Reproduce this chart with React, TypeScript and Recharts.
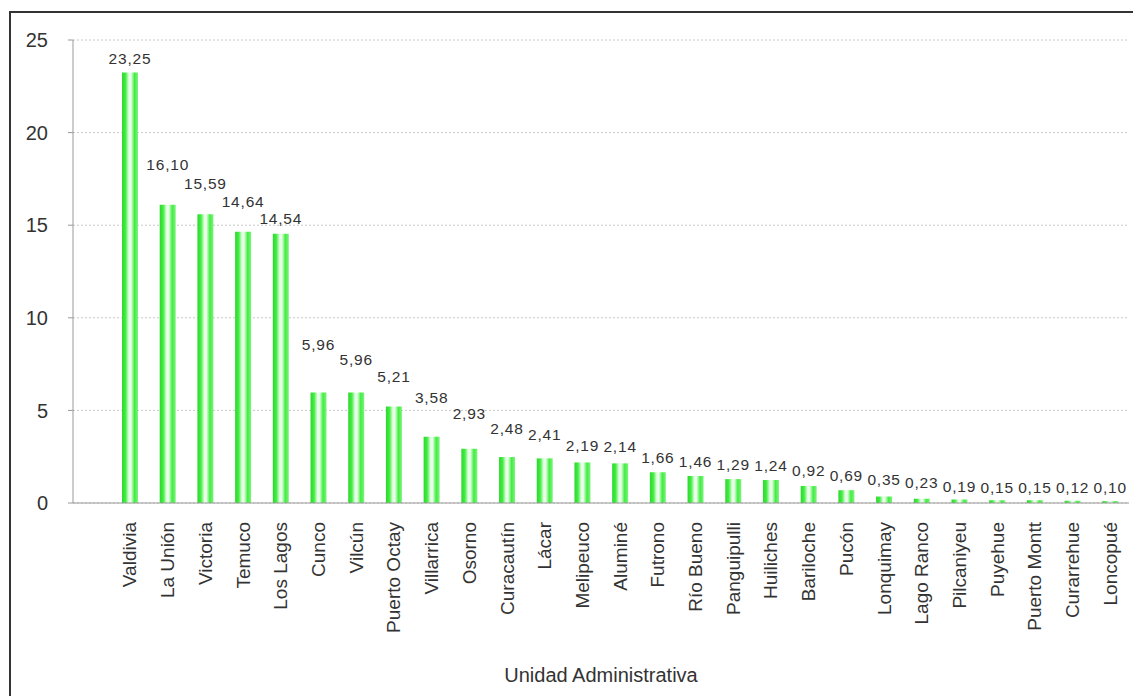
import { BarChart, Bar, XAxis, YAxis, CartesianGrid, LabelList } from "recharts"

// Unidades administrativas y valores
const units = [
  "Valdivia", "La Unión", "Victoria", "Temuco", "Los Lagos", "Cunco", "Vilcún",
  "Puerto Octay", "Villarrica", "Osorno", "Curacautín", "Lácar", "Melipeuco",
  "Aluminé", "Futrono", "Río Bueno", "Panguipulli", "Huiliches", "Bariloche",
  "Pucón", "Lonquimay", "Lago Ranco", "Pilcaniyeu", "Puyehue", "Puerto Montt",
  "Curarrehue", "Loncopué",
]
const values = [
  23.25, 16.1, 15.59, 14.64, 14.54, 5.96, 5.96, 5.21, 3.58, 2.93, 2.48, 2.41,
  2.19, 2.14, 1.66, 1.46, 1.29, 1.24, 0.92, 0.69, 0.35, 0.23, 0.19, 0.15, 0.15,
  0.12, 0.1,
]
const yTicks = [0, 5, 10, 15, 20, 25]

// separación de cada etiqueta sobre su barra (px), como en el original
const labelLift = [
  14, 40, 31, 30, 15, 48, 33, 30, 39, 35, 29, 24, 17, 17, 15, 14, 15, 15, 15,
  15, 17, 16, 13, 13, 13, 13, 14,
]

const data = units.map((name, i) => ({ name, value: values[i] }))

const FONT = "'Liberation Sans', Arial, sans-serif"

function UnitTick(props: any) {
  const { x, y, payload } = props
  return (
    <text
      x={x}
      y={y}
      transform={`rotate(-90, ${x}, ${y})`}
      textAnchor="end"
      dy="0.35em"
      fontSize={19}
      fill="#333"
      fontFamily={FONT}
    >
      {payload.value}
    </text>
  )
}

function ValueLabel(props: any) {
  const { x, y, width, value, index } = props
  return (
    <text
      x={x + width / 2}
      y={y - labelLift[index]}
      textAnchor="middle"
      dominantBaseline="central"
      fontSize={15.5}
      letterSpacing={0.8}
      fill="#333"
      fontFamily={FONT}
    >
      {Number(value).toFixed(2).replace(".", ",")}
    </text>
  )
}

export default function App() {
  return (
    <div style={{ position: "absolute", left: 0, top: 0, width: 1133, height: 696, background: "#fff", fontFamily: FONT }}>
      <BarChart
        width={1133}
        height={696}
        data={data}
        margin={{ top: 40, right: 4, left: 13, bottom: 8 }}
      >
        <defs>
          <linearGradient id="barGreen" x1="0" y1="0" x2="1" y2="0">
            <stop offset="0%" stopColor="#2fd62f" />
            <stop offset="22%" stopColor="#40ee40" />
            <stop offset="44%" stopColor="#eaffea" />
            <stop offset="56%" stopColor="#eaffea" />
            <stop offset="78%" stopColor="#40ee40" />
            <stop offset="100%" stopColor="#80f280" />
          </linearGradient>
        </defs>
        <CartesianGrid vertical={false} stroke="#c8c8c8" strokeDasharray="2 2" />
        <XAxis
          dataKey="name"
          interval={0}
          height={185}
          padding={{ left: 38, right: 0 }}
          tickLine={false}
          tickSize={0}
          tickMargin={19}
          axisLine={{ stroke: "#999" }}
          tick={<UnitTick />}
          label={{
            value: "Unidad Administrativa",
            position: "insideBottom",
            offset: 6,
            fontSize: 20,
            fill: "#333",
            fontFamily: FONT,
          }}
        />
        <YAxis
          width={60}
          domain={[0, 25]}
          ticks={yTicks}
          tickSize={5}
          tickMargin={20}
          axisLine={{ stroke: "#999" }}
          tickLine={{ stroke: "#999" }}
          tick={{ fontSize: 20, fill: "#333", fontFamily: FONT }}
        />
        <Bar dataKey="value" barSize={16} fill="url(#barGreen)" isAnimationActive={false}>
          <LabelList dataKey="value" content={<ValueLabel />} />
        </Bar>
      </BarChart>
      <div
        style={{
          position: "absolute",
          left: 9,
          top: 11,
          width: 1124,
          height: 685,
          borderTop: "2px solid #333",
          borderLeft: "2px solid #333",
          pointerEvents: "none",
        }}
      />
    </div>
  )
}
